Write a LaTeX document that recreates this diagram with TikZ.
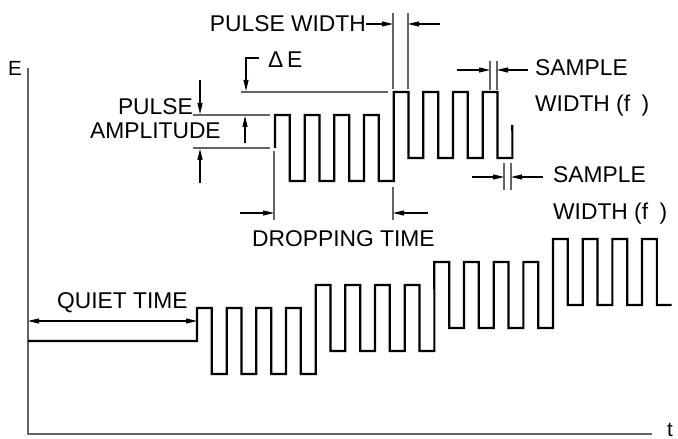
\documentclass[tikz,border=0pt]{standalone}
\usepackage{fontspec}
\setmainfont{Liberation Sans}
\usetikzlibrary{arrows.meta,positioning}
\definecolor{dimgray}{RGB}{100,100,100}

\begin{document}
\begin{tikzpicture}[x=1bp, y=-1bp,
  lbl/.style={font=\fontsize{22.8bp}{27bp}\selectfont, inner sep=0pt},
  sml/.style={font=\fontsize{20.5bp}{24bp}\selectfont, inner sep=0pt},
  wave/.style={line width=2.2bp, line join=miter},
  ext/.style={dimgray, line width=1.3bp},
  dim/.style={-{Triangle[length=11bp,width=5bp]}, line width=1.2bp},
  dimboth/.style={{Triangle[length=11bp,width=5bp]}-{Triangle[length=11bp,width=5bp]}, line width=1.2bp},
  axis/.style={dimgray, line width=1.5bp}]
\useasboundingbox (0,0) rectangle (678,439);
% axes
\coordinate (origin) at (28,434);
\draw[axis] (28,68) -- (origin) -- (652,434);
\node[sml, anchor=base west] (elabel) at (8,76) {E};
\node[sml, anchor=base west] (tlabel) at (667,436) {t};

% staircase waveform
\draw[wave] (28,341) -- (197,341)
  \foreach \s in {0,...,3} {
    \foreach \k in {0,...,3} {
      -- ({197+118.67*\s+29.67*\k},{308-23*\s})
      -- ({197+118.67*\s+29.67*\k+14.83},{308-23*\s})
      -- ({197+118.67*\s+29.67*\k+14.83},{374-23*\s})
      -- ({197+118.67*\s+29.67*(\k+1)},{374-23*\s}) } };
\node[lbl, anchor=base west] (quiet) at (57,309) {QUIET TIME};
\draw[dimboth] (28,321) -- (197,321);

% detail of two steps
\draw[wave] (275,148)
  \foreach \s in {0,1} {
    \foreach \k in {0,...,3} {
      -- ({275+118.67*\s+29.67*\k},{115-23*\s})
      -- ({275+118.67*\s+29.67*\k+14.83},{115-23*\s})
      -- ({275+118.67*\s+29.67*\k+14.83},{181-23*\s})
      -- ({275+118.67*\s+29.67*(\k+1)},{181-23*\s}) } }
  -- ({275+2*118.67},125);

% pulse amplitude
\draw[ext] (193,115) -- (270,115);
\draw[ext] (193,148) -- (270,148);
\draw[dim] (200,80) -- (200,114);
\draw[dim] (200,183) -- (200,149);
\draw[dim] (245,143) -- (245,116);
\node[lbl, anchor=base east] (pulse) at (193,115) {PULSE};
\node[lbl, anchor=base west] (ampl) at (90,139) {AMPLITUDE};

% delta E
\draw[ext] (241,92) -- (388,92);
\draw[dim] (259,58) -- (246,58) -- (246,91);
\node[lbl, anchor=base west] (deltae) at (268,68) {Δ\,E};

% pulse width
\draw[ext] (393,13) -- (393,89);
\draw[ext] (408,13) -- (408,89);
\node[lbl, anchor=base east] (pwidth) at (366,32) {PULSE WIDTH};
\draw[dim] (pwidth.east |- 0,24) -- (393,24);
\draw[dim] (440,24) -- (408,24);

% sample widths
\draw[ext] (490,61) -- (490,90);
\draw[ext] (497,61) -- (497,90);
\draw[dim] (457,70) -- (490,70);
\draw[dim] (528,70) -- (497,70);
\node[lbl, anchor=base west] (samptop) at (535,76) {SAMPLE};
\node[lbl, anchor=base west] (widtop) at (535,112) {WIDTH (f\hspace{0.5em})};
\draw[ext] (504,163) -- (504,190);
\draw[ext] (511,163) -- (511,190);
\draw[dim] (472,177) -- (504,177);
\draw[dim] (543,177) -- (511,177);
\node[lbl, anchor=base west] (sampbot) at (553,183) {SAMPLE};
\node[lbl, anchor=base west] (widbot) at (553,220) {WIDTH (f\hspace{0.5em})};

% dropping time
\draw[ext] (274,151) -- (274,220);
\draw[ext] (393,187) -- (393,220);
\draw[dim] (240,213) -- (274,213);
\draw[dim] (428,213) -- (393,213);
\node[lbl, anchor=base west] (drop) at (252,247) {DROPPING TIME};
\end{tikzpicture}
\end{document}
